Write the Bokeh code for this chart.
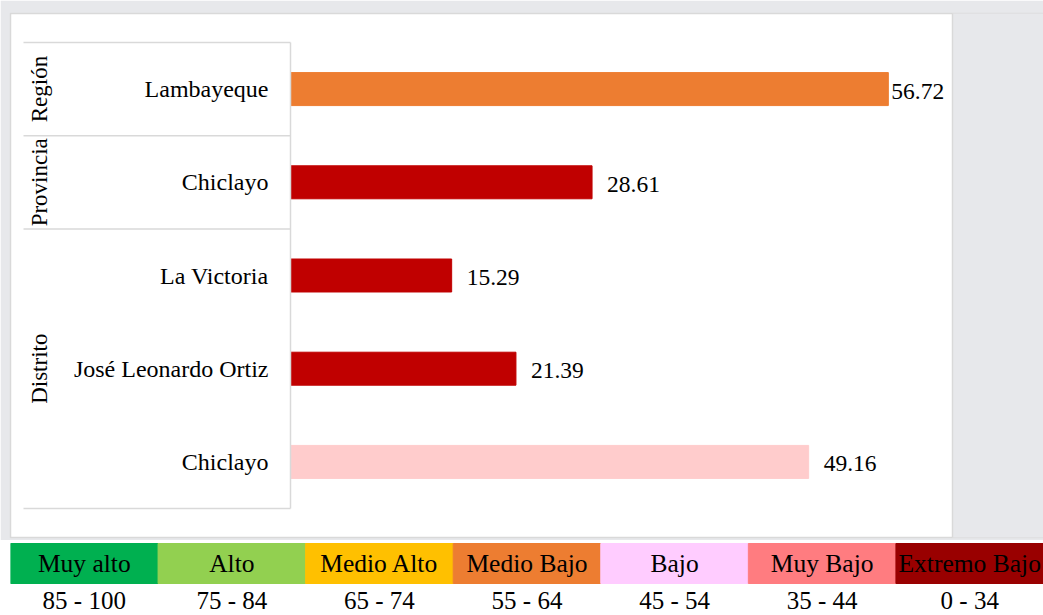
import math
from bokeh.plotting import figure
from bokeh.models import FactorRange, Range1d, ColumnDataSource
from bokeh.layouts import column
from bokeh.embed import file_html
from bokeh.resources import INLINE
from bokeh.core.properties import value

# ---------------- data ----------------
levels = ["Región", "Provincia", "Distrito", "Distrito", "Distrito"]
places = ["Lambayeque", "Chiclayo", "La Victoria", "José Leonardo Ortiz", "Chiclayo"]
scores = [56.72, 28.61, 15.29, 21.39, 49.16]
bar_colors = ["#ED7D31", "#C00000", "#C00000", "#C00000", "#FFCCCC"]

legend_names = ["Muy alto", "Alto", "Medio Alto", "Medio Bajo", "Bajo", "Muy Bajo", "Extremo Bajo"]
legend_ranges = ["85 - 100", "75 - 84", "65 - 74", "55 - 64", "45 - 54", "35 - 44", "0 - 34"]
legend_colors = ["#00B050", "#92D050", "#FFC000", "#ED7D31", "#FFCCFF", "#FF7C80", "#990000"]

FONT = value("Liberation Serif")
GRID = "#d9d9d9"
BG = "#e7e8eb"

W = 1043
LEFT_BORDER = 10
FRAME_W = W - LEFT_BORDER

# ---------------- main chart ----------------
factors = list(zip(levels, places))          # top -> bottom
yr = FactorRange(*reversed(factors), factor_padding=0, group_padding=0,
                 subgroup_padding=0, range_padding=0.1244, range_padding_units="percent")

PX = 10.54                      # pixels per score unit
X0 = -(290 - LEFT_BORDER) / PX
X1 = X0 + FRAME_W / PX
XBOX = (952 - 290) / PX         # right edge of the white chart box

p = figure(width=W, height=540, x_range=Range1d(X0, X1), y_range=yr,
           output_backend="svg", toolbar_location=None,
           x_axis_location=None, y_axis_location=None,
           min_border_left=LEFT_BORDER, min_border_right=0,
           min_border_top=13, min_border_bottom=3,
           background_fill_color="white", border_fill_color=BG,
           outline_line_color=GRID, outline_line_width=1.5)
p.xgrid.visible = False
p.ygrid.visible = False

# grey surround on the right of the chart box, and its right border
far_top = factors[0] + (2.0,)
far_bot = factors[-1] + (-2.0,)
p.quad(left=[XBOX], right=[X1 + 1], bottom=[far_bot], top=[far_top],
       fill_color=BG, line_color=None)
p.segment(x0=[XBOX], x1=[XBOX], y0=[far_bot], y1=[far_top],
          line_color=GRID, line_width=1.5)

src = ColumnDataSource(dict(
    y=factors, score=scores, color=bar_colors, place=places,
    label=[f"{v:.2f}" for v in scores],
    off=[3 if v > 55 else 15 for v in scores],
))

p.hbar(y="y", left=0, right="score", height=0.354, color="color", source=src)

# separator lines of the category table
boundaries = [factors[0] + (0.5,)]
for i in range(len(factors) - 1):
    if levels[i] != levels[i + 1]:
        boundaries.append(factors[i] + (-0.5,))
boundaries.append(factors[-1] + (-0.5,))
LEFT = -267 / PX
p.segment(x0=[LEFT] * len(boundaries), x1=[0] * len(boundaries),
          y0=boundaries, y1=boundaries, line_color=GRID, line_width=1.5)
p.segment(x0=[0], x1=[0], y0=[boundaries[-1]], y1=[boundaries[0]],
          line_color=GRID, line_width=1.5)

# value labels
p.text(x="score", y="y", text="label", x_offset="off", y_offset=2, source=src,
       text_baseline="middle", text_align="left", text_font=FONT,
       text_font_size="23.5px", text_color="black")

# category labels
p.text(x=0, y="y", text="place", x_offset=-22, source=src,
       text_baseline="middle", text_align="right", text_font=FONT,
       text_font_size="24px", text_color="black")

# group labels (vertical)
groups = list(dict.fromkeys(levels))
p.text(x=[0] * len(groups), y=groups, text=groups, x_offset=-251, angle=math.pi / 2,
       text_baseline="middle", text_align="center", text_font=FONT,
       text_font_size="23px", text_color="black")

# ---------------- legend strip ----------------
q = figure(width=W, height=75, x_range=FactorRange(*legend_names),
           y_range=Range1d(-0.8, 1.075),
           output_backend="svg", toolbar_location=None,
           x_axis_location=None, y_axis_location=None,
           min_border_left=LEFT_BORDER, min_border_right=0,
           min_border_top=0, min_border_bottom=0,
           background_fill_color="white", border_fill_color="white",
           outline_line_color=None)
q.xgrid.visible = False
q.ygrid.visible = False

lsrc = ColumnDataSource(dict(name=legend_names, rng=legend_ranges, color=legend_colors))
q.vbar(x="name", bottom=0, top=1, width=1, color="color", source=lsrc)
q.text(x="name", y=0.5, text="name", source=lsrc, text_align="center",
       text_baseline="middle", text_font=FONT, text_font_size="25.5px", text_color="black")
q.text(x="name", y=-0.42, text="rng", source=lsrc, text_align="center",
       text_baseline="middle", text_font=FONT, text_font_size="25px", text_color="black")

layout = column(p, q, spacing=0)
open("out.html", "w").write(file_html(layout, INLINE))
